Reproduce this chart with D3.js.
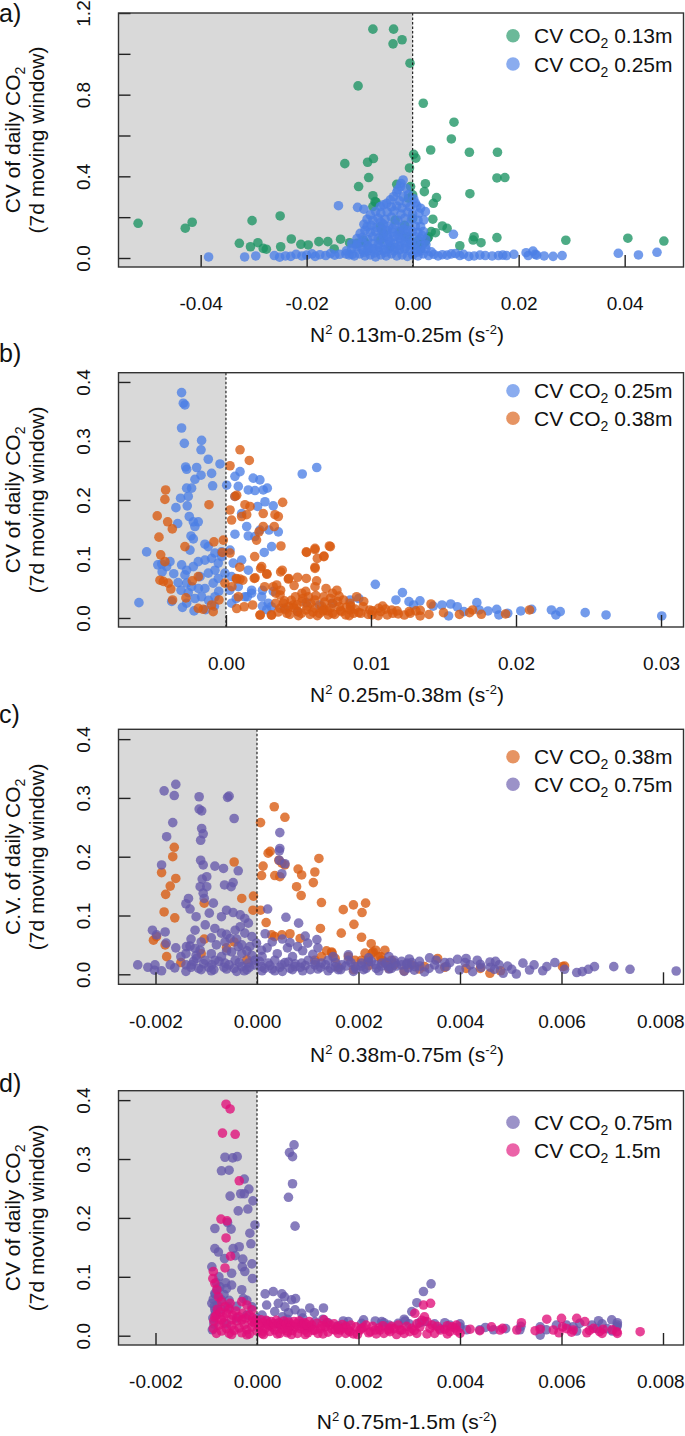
<!DOCTYPE html>
<html><head><meta charset="utf-8">
<script src="https://cdn.jsdelivr.net/npm/d3@7"></script>
<style>
body{margin:0;background:#fff}
svg text{font-family:"Liberation Sans",Arial,Helvetica,sans-serif;fill:#111}
</style></head>
<body><svg id="c" width="685" height="1436"></svg>
<script>
// ---------------- DATA ----------------
// Panel a: N2 0.13m-0.25m vs CV CO2
const aGreen=[[-0.0075,1.121],[-0.0036,1.121],[-0.0037,1.049],[-0.0020,1.069],[-0.0005,0.954],[-0.0103,0.843],
[0.0020,0.758],[0.0078,0.665],[0.0073,0.583],[0.0034,0.529],[0.0002,0.508],[0.0006,0.489],
[0.0107,0.518],[0.0160,0.518],[0.0159,0.392],[0.0174,0.394],[0.0108,0.315],
[-0.0128,0.462],[-0.0085,0.469],[-0.0074,0.487],[-0.0083,0.394],[-0.0102,0.350],[-0.0006,0.441],
[0.0024,0.364],[0.0022,0.325],[0.0045,0.296],[0.0039,0.268],[-0.0075,0.305],[-0.0069,0.273],
[-0.0030,0.361],[-0.0004,0.350],[0.0000,0.309],[-0.0008,0.293],[0.0038,0.190],[0.0056,0.157],[0.0065,0.145],
[0.0035,0.129],[0.0043,0.124],[0.0030,0.104],[0.0024,0.080],[0.0028,0.096],[0.0089,0.060],
[0.0116,0.104],[0.0114,0.088],[0.0129,0.075],[0.0159,0.100],[0.0289,0.087],[0.0406,0.097],[0.0474,0.083],
[-0.0518,0.170],[-0.0429,0.146],[-0.0416,0.175],[-0.0303,0.183],[-0.0250,0.206],
[-0.0327,0.072],[-0.0306,0.055],[-0.0292,0.075],[-0.0282,0.047],[-0.0276,0.043],[-0.0249,0.055],[-0.0229,0.093],
[-0.0211,0.067],[-0.0197,0.064],[-0.0177,0.080],[-0.0160,0.080],[-0.0136,0.092],[-0.0148,0.044],[-0.0119,0.075],[-0.0105,0.072],[-0.0093,0.088],
[-0.0075,0.252],[-0.0071,0.276],[-0.0061,0.153],[-0.0033,0.186],[-0.0023,0.129],[-0.0061,0.088],[-0.0042,0.055],
[-0.0010,0.104],[0.0011,0.088],[0.0000,0.194],[-0.0090,0.075],[-0.0055,0.120],[-0.0015,0.160],[0.0008,0.060],[0.0015,0.045],[0.0020,0.070]];
const aBlue=[[-0.0385,0.005],[-0.0317,0.005],[-0.0296,0.010],[-0.0261,0.012],[-0.0251,0.004],[-0.0240,0.010],[-0.0230,0.008],[-0.0220,0.018],[-0.0209,0.010],[-0.0200,0.014],[-0.0190,0.020],[-0.0184,0.008],[-0.0175,0.016],[-0.0164,0.012],[-0.0155,0.022],[-0.0147,0.014],[-0.0138,0.018],[-0.0126,0.020],[-0.0114,0.018],
[0.0020,0.020],[0.0030,0.012],[0.0040,0.018],[0.0048,0.010],[0.0056,0.016],[0.0065,0.014],[0.0073,0.020],[0.0081,0.022],[0.0089,0.012],[0.0096,0.018],[0.0106,0.008],[0.0116,0.010],[0.0127,0.014],[0.0137,0.012],[0.0150,0.010],[0.0162,0.012],[0.0170,0.014],[0.0177,0.012],[0.0191,0.018],[0.0214,0.026],[0.0218,0.012],[0.0227,0.034],[0.0231,0.018],[0.0234,0.014],[0.0248,0.010],[0.0265,0.008],[0.0282,0.012],[0.0388,0.023],[0.0426,0.015],[0.0461,0.028],
[-0.0018,0.382],[-0.0022,0.365],[-0.0023,0.350],[-0.0028,0.335],[-0.0012,0.340],
[-0.0030,0.322],[-0.0036,0.300],[-0.0008,0.310],[-0.0018,0.300],[0.0002,0.290],
[-0.0042,0.285],[-0.0049,0.268],[-0.0025,0.280],[-0.0012,0.270],[0.0005,0.270],
[-0.0061,0.252],[-0.0055,0.260],[-0.0040,0.250],[-0.0030,0.255],[-0.0020,0.245],[-0.0005,0.250],[0.0015,0.244],[-0.0104,0.248],[-0.0092,0.239],[-0.0140,0.256],[0.0008,0.255],
[-0.0070,0.228],[-0.0080,0.211],[-0.0060,0.220],[-0.0048,0.225],[-0.0035,0.230],[-0.0022,0.215],[-0.0010,0.225],[0.0000,0.215],[0.0024,0.227],[0.0012,0.220],
[-0.0086,0.190],[-0.0075,0.185],[-0.0065,0.195],[-0.0052,0.190],[-0.0040,0.200],[-0.0028,0.185],[-0.0015,0.195],[-0.0002,0.190],[0.0010,0.185],[0.0021,0.186],[-0.0060,0.175],
[-0.0086,0.153],[-0.0092,0.165],[-0.0078,0.160],[-0.0068,0.150],[-0.0055,0.165],[-0.0045,0.155],[-0.0033,0.165],[-0.0020,0.155],[-0.0008,0.160],[0.0005,0.155],[0.0015,0.154],
[-0.0099,0.121],[-0.0090,0.135],[-0.0080,0.125],[-0.0070,0.130],[-0.0058,0.120],[-0.0048,0.135],[-0.0038,0.125],[-0.0025,0.130],[-0.0012,0.120],[0.0000,0.130],[0.0010,0.125],[0.0020,0.130],
[-0.0105,0.095],[-0.0095,0.100],[-0.0085,0.090],[-0.0075,0.105],[-0.0065,0.095],[-0.0055,0.100],[-0.0045,0.090],[-0.0035,0.105],[-0.0025,0.095],[-0.0015,0.100],[-0.0005,0.090],[0.0005,0.104],[0.0015,0.095],[0.0025,0.090],[0.0077,0.116],
[-0.0115,0.070],[-0.0105,0.065],[-0.0095,0.075],[-0.0085,0.060],[-0.0075,0.070],[-0.0065,0.065],[-0.0055,0.075],[-0.0045,0.065],[-0.0035,0.070],[-0.0025,0.060],[-0.0015,0.075],[-0.0005,0.065],[0.0005,0.070],[0.0015,0.060],[0.0025,0.065],
[-0.0125,0.035],[-0.0115,0.045],[-0.0105,0.055],[-0.0095,0.040],[-0.0085,0.035],[-0.0075,0.045],[-0.0065,0.035],[-0.0055,0.040],[-0.0045,0.045],[-0.0035,0.035],[-0.0025,0.040],[-0.0015,0.045],[-0.0005,0.035],[0.0005,0.040],[0.0015,0.035],[0.0025,0.045],[0.0035,0.030],
[-0.0120,0.015],[-0.0110,0.010],[-0.0100,0.020],[-0.0090,0.010],[-0.0080,0.015],[-0.0070,0.005],[-0.0060,0.015],[-0.0050,0.010],[-0.0040,0.020],[-0.0030,0.010],[-0.0020,0.015],[-0.0010,0.008],[0.0000,0.015],[0.0010,0.010],
[-0.0072,0.025],[-0.0062,0.055],[-0.0052,0.028],[-0.0042,0.080],[-0.0032,0.050],[-0.0022,0.085],[-0.0012,0.055],[-0.0002,0.075],[0.0008,0.028],[-0.0082,0.050],[-0.0092,0.028],[-0.0038,0.145],[-0.0028,0.110],[-0.0018,0.140],[-0.0008,0.135],[-0.0048,0.110],[-0.0058,0.140],[0.0018,0.110]];

// Panel b: N2 0.25m-0.38m
const bBlue=[[-0.00306,0.382],[-0.00294,0.364],[-0.00283,0.361],[-0.00306,0.322],[-0.00287,0.296],[-0.00168,0.301],[-0.00172,0.285],[-0.00122,0.269],[-0.00041,0.261],
[-0.00278,0.256],[-0.00271,0.252],[-0.00202,0.255],[-0.00172,0.242],[-0.00214,0.235],[-0.00099,0.245],[-0.00092,0.224],
[-0.00271,0.220],[-0.00237,0.220],[-0.00260,0.206],[-0.00313,0.203],[-0.00267,0.190],[-0.00345,0.187],[-0.00253,0.172],[-0.00225,0.163],[-0.00191,0.163],[-0.00333,0.160],[-0.00214,0.155],[-0.00241,0.139],[-0.00225,0.134],[-0.00145,0.125],[-0.00248,0.115],[-0.00547,0.112],[-0.00076,0.110],[-0.00122,0.121],[-0.00030,0.112],
[-0.00443,0.0915],[-0.00409,0.087],[-0.00386,0.0955],[-0.00306,0.090],[-0.00271,0.081],[-0.00225,0.087],[-0.00191,0.0955],[-0.00145,0.098],[-0.00099,0.101],[-0.00053,0.093],[-0.00030,0.104],[-0.00076,0.081],[-0.00122,0.076],[-0.00179,0.070],[-0.00283,0.073],[-0.00271,0.059],[-0.00237,0.053],[-0.00145,0.050],[-0.00088,0.059],[-0.00053,0.067],[-0.00260,0.043],[-0.00168,0.036],[-0.00076,0.036],[-0.00214,0.033],[-0.00271,0.025],[-0.00374,0.028],[-0.00600,0.026],
[-0.0047,0.090],[-0.0044,0.078],[-0.0036,0.075],[-0.0033,0.060],[-0.0031,0.047],[-0.0019,0.050],[-0.0012,0.030],[-0.0005,0.045],[-0.0008,0.020],[-0.0030,0.018],[-0.0022,0.012],[-0.0014,0.014],
[0.00062,0.240],[0.00097,0.248],[0.00188,0.237],[0.00234,0.234],[0.00085,0.223],[0.00154,0.217],[0.00200,0.216],[0.00257,0.217],[0.00285,0.220],[0.00005,0.225],[0.00062,0.206],[0.00269,0.197],[0.00326,0.190],[0.00218,0.189],[0.00108,0.177],[0.00143,0.155],[0.00062,0.142],[0.00154,0.139],[0.00200,0.138],[0.00264,0.111],[0.00315,0.121],[0.00361,0.146],[0.00297,0.149],[0.00234,0.149],[0.00526,0.244],[0.00626,0.255],
[0.00028,0.115],[0.00108,0.098],[0.00050,0.093],[0.00154,0.081],[0.00039,0.070],[-0.00007,0.076],[0.00085,0.053],[0.00177,0.047],[0.00131,0.036],[0.00039,0.025],[0.00246,0.036],[0.00292,0.025],[0.00326,0.045],[0.00281,0.014],
[0.0103,0.057],[0.01217,0.043],[0.01172,0.0305],[0.01262,0.0277],[0.01338,0.029],[0.01294,0.022],[0.01429,0.020],[0.01490,0.022],[0.01550,0.0237],[0.01595,0.019],[0.01535,0.0034],[0.01641,0.0107],[0.01730,0.026],[0.01746,0.0136],[0.01807,0.0119],[0.01867,0.0147],[0.01882,0.0051],[0.01943,0.008],[0.02033,0.0119],[0.02108,0.0147],[0.02244,0.0136],[0.02275,0.0051],[0.02305,0.0107],[0.02477,0.009],[0.02621,0.0051],[0.03005,0.0034],
[0.00856,0.0305],[0.00916,0.033],[0.00735,0.025],[0.00645,0.022],[0.00554,0.026],[0.00494,0.0107],[0.00403,0.0164],[0.00313,0.019],[0.00252,0.020],[0.00147,0.036],[0.00071,0.033],[0.00026,0.047],[0.00177,0.042],[0.00252,0.047]];
const bOrange=[[0.00097,0.285],[0.00161,0.267],[0.00028,0.258],[-0.00416,0.217],[-0.00421,0.201],[-0.00474,0.173],[-0.00402,0.163],[-0.00370,0.151],[-0.00462,0.137],[-0.00450,0.107],[-0.00421,0.0955],[-0.00455,0.064],[-0.00432,0.062],[-0.00398,0.059],[-0.00380,0.049],[-0.00368,0.0305],[-0.00283,0.121],[-0.00276,0.034],[-0.00191,0.070],[-0.00232,0.063],[-0.00117,0.192],[-0.00083,0.129],[-0.00018,0.132],[-0.00025,0.111],[0.00028,0.110],[-0.00007,0.059],[-0.00048,0.0305],[-0.00099,0.022],[-0.00088,0.0107],[-0.00191,0.0164],[-0.00157,0.0147],
[0.00062,0.206],[0.00074,0.208],[0.00131,0.192],[0.00166,0.189],[0.00028,0.183],[0.00039,0.166],[0.00108,0.172],[0.00143,0.175],[0.00257,0.177],[0.00338,0.175],[0.00361,0.172],[0.00391,0.196],[0.00333,0.155],[0.00257,0.155],[0.00228,0.146],[0.00211,0.132],[0.00379,0.122],[0.00556,0.111],[0.00614,0.116],[0.00713,0.122],[0.00676,0.105],[0.00614,0.084],[0.00625,0.063],[0.00494,0.069],[0.00430,0.066],[0.00377,0.078],[0.00239,0.084],[0.00281,0.075],[0.00326,0.053],[0.00350,0.056],[0.00377,0.047],[0.00395,0.025],[0.00195,0.067],[0.00184,0.022],[0.00097,0.066],[0.00074,0.066],[0.00126,0.019],[0.00074,0.016],[0.00234,0.005],[0.00315,0.005],
[0.00237,0.0051],[0.00313,0.0051],[0.00343,0.025],[0.00373,0.0164],[0.00433,0.019],[0.00494,0.0107],[0.00554,0.0136],[0.00614,0.0164],[0.00675,0.0147],[0.00705,0.0051],[0.00735,0.025],[0.00796,0.0107],[0.00856,0.0136],[0.00916,0.009],[0.00992,0.0136],[0.01067,0.0107],[0.01112,0.0051],[0.01188,0.0068],[0.01339,0.0034],[0.01414,0.0237],[0.01701,0.0136],[0.01761,0.0062],[0.01928,0.0068],[0.02093,0.0136],
[0.00373,0.039],[0.00524,0.042],[0.00569,0.036],[0.00614,0.0305],[0.00675,0.036],[0.00735,0.042],[0.00765,0.047],[0.00901,0.036],[0.00614,0.053],[0.00690,0.050],[0.00554,0.067],[0.00433,0.067],[0.00614,0.086],[0.00630,0.101],[0.00554,0.112],[0.00614,0.118],[0.00675,0.104],[0.00720,0.121],[0.00388,0.081],[0.00283,0.074],[0.00267,0.053],[0.00343,0.042],[0.00201,0.068],[0.00116,0.064],[0.00071,0.067],[0.00095,0.086],[0.00246,0.087],[0.00198,0.104],[0.00041,0.053],[0.00086,0.036],
[0.00403,0.029],[0.00464,0.022],[0.00524,0.0277],[0.00584,0.025],[0.00645,0.008],[0.00735,0.008],[0.00781,0.019],[0.00826,0.0051],[0.00946,0.019],[0.01007,0.0051],[0.01052,0.0164],[0.01143,0.0136],[0.01263,0.0107],[0.00720,0.033],[0.00810,0.0305],[0.00856,0.025],[0.00479,0.036],
[0.0042,0.008],[0.0050,0.004],[0.0058,0.006],[0.0066,0.020],[0.0070,0.012],[0.0077,0.028],[0.0083,0.018],[0.0088,0.008],[0.0095,0.028],[0.0098,0.006],[0.0105,0.004],[0.0108,0.020],[0.0115,0.008],[0.0123,0.005],[0.0131,0.012],[0.0036,0.010],[0.0045,0.030],[0.0062,0.038],[0.0055,0.045],[0.0047,0.055],
[0.0041,0.014],[0.0044,0.006],[0.0047,0.017],[0.0052,0.008],[0.0056,0.020],[0.0060,0.010],[0.0063,0.004],[0.0067,0.012],[0.0072,0.017],[0.0075,0.006],[0.0079,0.013],[0.0085,0.004],[0.0089,0.015],[0.0093,0.008],[0.0101,0.012],[0.0110,0.015],[0.0118,0.012],[0.0127,0.008],[0.0134,0.013],[0.0140,0.006],[0.0150,0.009],[0.0161,0.006],[0.0168,0.009],[0.0053,0.033],[0.0068,0.027],[0.0078,0.037],[0.0086,0.020],[0.0049,0.022]];

// Panel c: N2 0.38m-0.75m
const cOrange=[[0.00034,0.285],[0.00055,0.267],[0.00007,0.258],[-0.00163,0.216],[-0.00166,0.200],[-0.00160,0.163],[-0.00171,0.150],[-0.00180,0.136],[-0.00183,0.106],[-0.00162,0.096],[-0.00178,0.030],[-0.00188,0.173],[-0.00204,0.058],[-0.00198,0.064],[-0.00181,0.050],[-0.00045,0.191],[-0.00030,0.129],[-0.00007,0.133],[-0.00008,0.109],[0.00007,0.109],[-0.00104,0.121],[-0.00104,0.060],
[0.00009,0.168],[0.00012,0.184],[0.00022,0.206],[0.00026,0.209],[0.00035,0.168],[0.00043,0.194],[0.00049,0.189],[0.00055,0.186],[0.00045,0.166],[0.00081,0.179],[0.00088,0.169],[0.00078,0.149],[0.00087,0.134],[0.00114,0.174],[0.00111,0.156],[0.00122,0.197],[0.00127,0.122],[0.00170,0.110],[0.00190,0.118],[0.00207,0.105],[0.00214,0.121],[0.00191,0.085],[0.00206,0.063],[0.00018,0.088],[0.00029,0.067],[0.00035,0.064],[0.00049,0.067],[0.00065,0.069],[0.00085,0.061],[0.00125,0.078],[0.00137,0.040],[0.00147,0.038],[0.00166,0.070],[0.00225,0.052],[0.00234,0.041],[0.00229,0.038],[0.00213,0.036],[0.00219,0.024],[0.00114,0.024],[0.00127,0.030],
[0.00148,0.036],[0.00154,0.027],[0.00180,0.030],[0.00193,0.024],[0.00239,0.030],[0.00246,0.024],[0.00252,0.019],[0.00265,0.024],[0.00206,0.024],
[0.00356,0.027],[0.00412,0.010],[0.00459,0.0017],[0.00602,0.013],[0.00606,0.014],[0.00330,0.013],[0.00304,0.016],[0.00270,0.016],[0.00252,0.021],[0.00244,0.030],[0.00227,0.036],[0.00252,0.041],
[-0.0011,0.035],[-0.0006,0.045],[-0.0002,0.025],[-0.00045,0.055],[-0.0015,0.020],[0.0016,0.012],[0.0019,0.008],[0.0022,0.015],[0.0026,0.010],[0.0029,0.006],[0.0032,0.009],[0.0037,0.012],[0.0044,0.010],[0.0048,0.006]];
const cPurple=[[-0.00160,0.323],[-0.00183,0.312],[-0.00163,0.304],[-0.00114,0.302],[-0.00114,0.281],[-0.00109,0.278],[-0.00055,0.303],[-0.00058,0.301],[-0.00045,0.265],[-0.00166,0.258],[-0.00178,0.234],[-0.00109,0.248],[-0.00106,0.239],[-0.00111,0.228],[-0.00188,0.186],
[-0.00111,0.194],[-0.00106,0.186],[-0.00083,0.184],[-0.00066,0.180],[-0.00037,0.176],[-0.00047,0.156],[-0.00064,0.152],[-0.00051,0.149],
[-0.00099,0.166],[-0.00108,0.162],[-0.00112,0.149],[-0.00099,0.149],[-0.00106,0.138],[-0.00104,0.129],
[-0.00135,0.129],[-0.00140,0.120],[-0.00132,0.111],[-0.00120,0.098],[-0.00094,0.104],[-0.00086,0.121],[-0.00070,0.098],[-0.00060,0.109],[-0.00047,0.105],[-0.00033,0.101],[-0.00024,0.095],[-0.00017,0.087],[0.00021,0.111],[0.00057,0.097],
[0.00045,0.241],[0.00045,0.214],[0.00044,0.210],[0.00044,0.194],[0.00055,0.188],[0.00049,0.171],
[0.00082,0.087],[0.00095,0.065],[0.00118,0.059],[0.00065,0.054],[0.00100,0.053],[0.00080,0.047],[0.00016,0.069],
[-0.00235,0.016],[-0.00215,0.012],[-0.00201,0.016],[-0.00202,0.007],[-0.00188,0.006],[-0.00171,0.016],[-0.00162,0.011],[-0.00206,0.075],[-0.00198,0.067],[-0.00181,0.072],[-0.00179,0.053],[-0.00139,0.047],[-0.00132,0.048],[-0.00122,0.044],[-0.00112,0.041],[-0.00119,0.027],[-0.00102,0.024],[-0.00129,0.016],[-0.00140,0.016],
[-0.00122,0.075],[-0.00102,0.084],[-0.00083,0.078],[-0.00070,0.070],[-0.00063,0.055],[-0.00053,0.061],[-0.00043,0.075],[-0.00033,0.081],[-0.00024,0.070],[-0.00010,0.064],[-0.00001,0.053],[0.00009,0.041],[-0.00014,0.047],[-0.00037,0.047],[-0.00050,0.038],[-0.00070,0.030],[-0.00083,0.024],[-0.00089,0.016],[-0.00063,0.019],[-0.00043,0.024],[-0.00030,0.013],[-0.00017,0.019],[-0.00004,0.024],[0.00009,0.013],[0.00022,0.019],[0.00035,0.024],[0.00049,0.016],[0.00062,0.021],[0.00075,0.013],[0.00088,0.019],[0.00101,0.024],[0.00114,0.016],[0.00127,0.019],[0.00140,0.024],[0.00154,0.013],[0.00167,0.016],[0.00180,0.024],[0.00193,0.013],[0.00206,0.019],[0.00219,0.021],[0.00233,0.016],[0.00246,0.019],[0.00259,0.013],[0.00272,0.019],[0.00285,0.016],[0.00298,0.011],[0.00311,0.013],
[0.00353,0.024],[0.00395,0.0255],[0.00412,0.027],[0.00434,0.024],[0.00459,0.021],[0.00477,0.016],[0.00494,0.014],[0.00511,0.0005],[0.00524,0.019],[0.00546,0.016],[0.00571,0.013],[0.00587,0.020],[0.00606,0.0085],[0.00630,0.003],[0.00641,0.0045],[0.00653,0.0085],[0.00665,0.013],[0.00703,0.013],[0.00735,0.0085],[0.00826,0.0056],[0.00270,0.024],[0.00296,0.019],[0.00321,0.014],[0.00339,0.010],[0.00373,0.013],[0.00399,0.0073],[0.00425,0.0045],[0.00442,0.012],[0.00468,0.0085],[0.00485,0.0017],[0.00502,0.0085],[0.00537,0.0073],[0.00563,0.006],
[-0.0011,0.008],[-0.0009,0.006],[-0.0006,0.009],[-0.0004,0.005],[-0.0002,0.008],[0.0001,0.006],[0.0003,0.009],[0.0005,0.005],[0.0007,0.008],[0.0009,0.006],[0.0012,0.009],[0.0014,0.006],[0.0016,0.008],[0.0019,0.005],[0.0021,0.008],[0.0024,0.006],[0.0026,0.009],[0.0029,0.005],[0.0031,0.007],[0.0033,0.004],[0.0036,0.009],
[-0.0012,0.032],[-0.0009,0.035],[-0.0006,0.040],[-0.0003,0.035],[0.0001,0.030],[0.0004,0.035],[0.0007,0.030],[0.0011,0.034],[0.0015,0.030],[0.0018,0.033],[0.0022,0.028],[0.0026,0.030],[0.0030,0.026],[0.0034,0.028],[0.0038,0.020],[0.0042,0.016],[0.0046,0.012],
[-0.0014,0.005],[-0.0013,0.012],[-0.00125,0.022],[-0.00115,0.010],[-0.00105,0.018],[-0.00095,0.012],[-0.00085,0.008],[-0.00075,0.022],[-0.00065,0.012],[-0.00055,0.016],[-0.00045,0.010],[-0.00035,0.020],[-0.00025,0.006],[-0.00015,0.012],[-0.00005,0.016],[0.00005,0.022],[0.00015,0.010],[0.00025,0.015],[0.00035,0.006],[0.00045,0.012],[0.00055,0.020],[0.00065,0.010],[0.00075,0.018],[0.00085,0.012],[0.00095,0.015],[0.00105,0.008],[0.00115,0.020],[0.00125,0.012],[0.00135,0.016],[0.00145,0.010],[0.00155,0.020],[0.00165,0.008],[0.00175,0.014],[0.00185,0.020],[0.00195,0.009],[0.00205,0.014],[0.00215,0.010],[0.00225,0.022],[0.00235,0.010],[0.00245,0.014],[0.00255,0.020],[0.00265,0.010],[0.00275,0.014],[0.00285,0.022],[0.00295,0.017],[0.00305,0.020],[0.0032,0.022],[0.0035,0.016],[0.0037,0.020],[0.0041,0.020],[0.0044,0.017],[0.0047,0.022],
[-0.0013,0.060],[-0.0011,0.055],[-0.0009,0.062],[-0.0008,0.050],[-0.0006,0.068],[-0.0004,0.060],[-0.0003,0.050],[-0.0002,0.040],[-0.0001,0.032],[0.0002,0.045],[0.0003,0.055],[0.0006,0.045],[0.0009,0.040],[0.0012,0.045],[0.0005,0.060],[-0.0015,0.030],[-0.0016,0.045],[-0.0014,0.035]];

// Panel d: N2 0.75m-1.5m
const dPurple=[[0.00073,0.324],[0.00064,0.311],[0.00070,0.304],[0.00070,0.258],[0.00062,0.235],[0.00075,0.186],
[-0.00063,0.303],[-0.00048,0.302],[-0.00039,0.304],[-0.00070,0.280],[-0.00055,0.281],[-0.00025,0.266],[-0.00016,0.249],[-0.00032,0.241],[-0.00025,0.241],[-0.00053,0.237],[-0.00008,0.229],[-0.00037,0.212],[-0.00018,0.215],[-0.00004,0.188],[-0.00083,0.182],[-0.00058,0.192],[-0.00051,0.181],[-0.00014,0.174],[-0.00012,0.156],[-0.00083,0.148],[-0.00076,0.142],[-0.00047,0.148],[-0.00035,0.151],[-0.00064,0.131],[-0.00043,0.136],[-0.00028,0.130],[-0.00029,0.117],[-0.00024,0.109],[-0.00010,0.122],[-0.00009,0.097],[-0.00050,0.106],[-0.00050,0.086],[-0.00060,0.080],[-0.00073,0.083],[-0.00089,0.117],[-0.00083,0.072],[-0.00070,0.061],[-0.00083,0.044],[-0.00089,0.055],[-0.00057,0.049],[-0.00030,0.078],[-0.00027,0.063],[-0.00010,0.049],
[0.00016,0.071],[0.00032,0.075],[0.00049,0.071],[0.00068,0.061],[0.00042,0.055],[0.00019,0.052],[0.00055,0.049],[0.00075,0.044],[0.00104,0.047],[0.00131,0.047],[0.00113,0.039],[0.00088,0.038],[0.00062,0.039],[0.00035,0.041],[0.00054,0.066],[0.00076,0.063],
[0.00343,0.088],[0.00328,0.075],[0.00315,0.056],[0.00305,0.041],
[0.00673,0.0255],[0.00699,0.027],[0.00709,0.015],[0.00610,0.018],[0.00623,0.015],[0.00636,0.021],[0.00590,0.018],[0.00558,0.001],[0.00518,0.010],[0.00466,0.010],[0.00439,0.010],[0.00413,0.010],[0.00558,0.015],[0.00680,0.020],[0.00690,0.012],[0.00710,0.022],[0.00660,0.018],[0.00700,0.008],
[0.00088,0.021],[0.00114,0.024],[0.00140,0.022],[0.00180,0.024],[0.00206,0.021],[0.00233,0.025],[0.00246,0.024],[0.00278,0.021],[0.00292,0.025],[0.00320,0.022],[0.00350,0.020],[0.00380,0.018],[0.00400,0.015],
[-0.00088,0.010],[-0.00085,0.020],[-0.00087,0.030],[-0.00082,0.038],[-0.00086,0.062],[-0.00080,0.090],[-0.00075,0.100],[-0.00078,0.052],[-0.00060,0.020],[-0.00040,0.030],[-0.00020,0.035],[0.00000,0.030],[0.00020,0.025],[0.00040,0.020],[0.00060,0.028],[0.00100,0.015],[0.00160,0.017],[0.00260,0.018],[0.00300,0.020],
[-0.00084,0.050],[-0.00082,0.070],[-0.00078,0.080],[-0.00070,0.045],[-0.00065,0.070],[-0.00062,0.090],[-0.00055,0.060],[-0.00040,0.050],[-0.00020,0.060],[0.00010,0.035],[0.00050,0.032],[0.00090,0.030],[0.00130,0.028],[0.00170,0.025],[0.00210,0.027],[0.00250,0.022],[0.00290,0.028],[0.00330,0.024],[0.00370,0.022],[0.00400,0.020],[0.00360,0.012],[0.00450,0.014],[0.00490,0.012],[0.00520,0.016],[0.00570,0.010],[0.00630,0.008],[0.00670,0.012],[0.00710,0.018]];
const dPink=[[-0.00061,0.393],[-0.00053,0.385],[-0.00068,0.344],[-0.00043,0.342],[-0.00035,0.263],[-0.00071,0.198],[-0.00059,0.195],[-0.00061,0.166],[-0.00052,0.135],[-0.00063,0.115],
[-0.00086,0.109],[-0.00087,0.097],[-0.00083,0.089],[-0.00079,0.078],[-0.00076,0.066],[-0.00070,0.058],[-0.00063,0.049],[-0.00053,0.055],[-0.00030,0.058],[-0.00020,0.052],[-0.00010,0.044],[-0.00083,0.032],[-0.00070,0.027],[-0.00050,0.027],[-0.00030,0.027],[-0.00010,0.024],
[-0.00086,0.012],[-0.00080,0.004],[-0.00075,0.018],[-0.00070,0.008],[-0.00065,0.022],[-0.00060,0.012],[-0.00055,0.004],[-0.00050,0.017],[-0.00045,0.009],[-0.00040,0.025],[-0.00035,0.013],[-0.00030,0.005],[-0.00025,0.019],[-0.00020,0.010],[-0.00015,0.003],[-0.00010,0.015],[-0.00005,0.022],[0.00000,0.008],[0.00005,0.016],[0.00010,0.004],[0.00016,0.0125],[0.00020,0.020],[0.00025,0.007],[0.00030,0.015],[0.00035,0.0097],[0.00040,0.003],[0.00045,0.018],[0.00050,0.011],[0.00055,0.0125],[0.00060,0.005],[0.00065,0.016],[0.00070,0.009],[0.00075,0.015],[0.00080,0.004],[0.00085,0.012],[0.00090,0.019],[0.00094,0.0097],[0.00100,0.005],[0.00105,0.014],[0.00114,0.0097],[0.00120,0.004],[0.00125,0.012],[0.00132,0.027],[0.00134,0.015],[0.00140,0.006],[0.00148,0.011],[0.00154,0.0097],[0.00160,0.004],[0.00164,0.0097],[0.00170,0.013],[0.00180,0.0097],[0.00183,0.0068],[0.00190,0.003],[0.00203,0.0097],[0.00210,0.014],[0.00206,0.0125],[0.00220,0.005],[0.00223,0.0068],[0.00233,0.0097],[0.00240,0.013],[0.00242,0.0097],[0.00250,0.004],[0.00259,0.0097],[0.00262,0.0068],[0.00270,0.012],[0.00282,0.0097],[0.00285,0.0097],[0.00290,0.004],[0.00301,0.0068],[0.00305,0.0125],[0.00311,0.038],[0.00321,0.015],[0.00328,0.052],[0.00342,0.055],[0.00341,0.0125],[0.00335,0.024],[0.00330,0.032],[0.00361,0.0097],[0.00350,0.004],[0.00370,0.011],[0.00380,0.0068],[0.00390,0.013],[0.00393,0.018],[0.00400,0.004],
[0.00420,0.011],[0.00439,0.0085],[0.00462,0.015],[0.00479,0.0097],[0.00484,0.0125],[0.00512,0.0097],[0.00521,0.022],[0.00548,0.0085],[0.00558,0.011],[0.00571,0.028],[0.00584,0.0097],[0.00600,0.0295],[0.00602,0.015],[0.00623,0.0097],[0.00630,0.0295],[0.00646,0.024],[0.00663,0.0125],[0.00682,0.011],[0.00709,0.0068],[0.00755,0.0068],[0.00620,0.006],[0.00650,0.005],[0.00680,0.004],[0.00700,0.010],[0.00710,0.004],[0.00655,0.009],[0.00675,0.007],[0.00610,0.012],[0.00595,0.005],
[-0.00085,0.025],[-0.00080,0.035],[-0.00078,0.045],[-0.00072,0.040],[-0.00066,0.032],[-0.00060,0.038],[-0.00055,0.045],[-0.00048,0.035],[-0.00042,0.042],[-0.00036,0.032],[-0.00028,0.038],[-0.00022,0.030],[-0.00015,0.035],[-0.00008,0.030],[-0.00002,0.026],
[0.00003,0.020],[0.00008,0.027],[0.00013,0.022],[0.00018,0.026],[0.00023,0.018],[0.00028,0.024],[0.00033,0.020],[0.00038,0.026],[0.00043,0.022],[0.00048,0.019],[0.00053,0.025],[0.00058,0.020],[0.00063,0.023],[0.00068,0.018],[0.00073,0.024],[0.00078,0.020],[0.00083,0.025],[0.00088,0.016],[0.00093,0.022],[0.00098,0.019],[0.00103,0.024],[0.00108,0.018],[0.00118,0.021],[0.00128,0.017],[0.00138,0.022],[0.00145,0.018],[0.00152,0.020],[0.00158,0.015],[0.00168,0.019],[0.00175,0.016],[0.00185,0.018],[0.00195,0.015],[0.00215,0.018],[0.00228,0.016],[0.00248,0.017],[0.00265,0.016],[0.00278,0.018],[0.00295,0.016],[0.00315,0.020],[0.00325,0.026],[0.00345,0.018],[0.00355,0.016],[0.00375,0.017],[0.00385,0.015],
[0.00013,0.002],[0.00045,0.004],[0.00068,0.002],[0.00095,0.002],[0.00130,0.003],[0.00175,0.004],[0.00198,0.002],[0.00235,0.003],[0.00275,0.002],[0.00315,0.004],[0.00335,0.003],[0.00375,0.003],[0.00395,0.008],[-0.00050,0.002],[-0.00020,0.0015],[0.00010,0.008],[0.00260,0.0125],[0.00310,0.009],[0.00160,0.012],[0.00110,0.009],[0.00060,0.008]];

// tick values / labels
const aXTicks=[-0.04,-0.02,0,0.02,0.04];
const aYTicks=[0,0.2,0.4,0.6,0.8,1.0,1.2];
const aYLabels=[0,0.4,0.8,1.2];
const bXTicks=[0,0.01,0.02,0.03];
const cdXTicks=[-0.002,0,0.002,0.004,0.006,0.008];
const bcdYTicks=[0,0.1,0.2,0.3,0.4];

const colGreen="#1b9463", colBlue="#4b7fe6", colOrange="#d95a0f", colPurple="#6558ab", colPink="#e0107a";

// ---------------- LAYOUT ----------------
const L=118.5, R=683.5;
const panels=[
 {tag:"a)", tagY:22, top:13, bottom:267, xd:[-0.0555,0.0511], yd:[-0.0441,1.2], xt:aXTicks, xf:".2f", yt:aYTicks, yl:aYLabels,
  s:[{d:aGreen,c:colGreen,n:"0.13m"},{d:aBlue,c:colBlue,n:"0.25m"}], leg:[35.7,64], yTitle:"CV of daily CO", xT:["N","2"," 0.13m-0.25m (s","-2",")"], xTy:342},
 {tag:"b)", tagY:362, top:372.7, bottom:627, xd:[-0.00741,0.03155], yd:[-0.0153,0.4157], xt:bXTicks, xf:".2f", yt:bcdYTicks, yl:bcdYTicks,
  s:[{d:bBlue,c:colBlue,n:"0.25m"},{d:bOrange,c:colOrange,n:"0.38m"}], leg:[390.7,418.3], yTitle:"CV of daily CO", xT:["N","2"," 0.25m-0.38m (s","-2",")"], xTy:702},
 {tag:"c)", tagY:723, top:729.3, bottom:984.3, xd:[-0.002729,0.008404], yd:[-0.017,0.4167], xt:cdXTicks, xf:".3f", yt:bcdYTicks, yl:bcdYTicks,
  s:[{d:cOrange,c:colOrange,n:"0.38m"},{d:cPurple,c:colPurple,n:"0.75m"}], leg:[756.7,784.3], yTitle:"C.V. of daily CO", xT:["N","2","  0.38m-0.75m (s","-2",")"], xTy:1062},
 {tag:"d)", tagY:1092, top:1090.7, bottom:1345, xd:[-0.002729,0.008404], yd:[-0.0158,0.416], xt:cdXTicks, xf:".3f", yt:bcdYTicks, yl:bcdYTicks,
  s:[{d:dPurple,c:colPurple,n:"0.75m"},{d:dPink,c:colPink,n:"1.5m"}], leg:[1122.3,1150], yTitle:"CV of daily CO", xT:["N","2","\u20090.75m-1.5m (s","-2",")"], xTy:1429}
];

const svg=d3.select("#c");
const fmtNum=f=>{const F=d3.format(f);return d=>F(d).replace("\u2212","-");};

panels.forEach(p=>{
  const g=svg.append("g");
  const x=d3.scaleLinear().domain(p.xd).range([L,R]);
  const y=d3.scaleLinear().domain(p.yd).range([p.bottom,p.top]);
  g.append("rect").attr("x",L).attr("y",p.top).attr("width",x(0)-L).attr("height",p.bottom-p.top).attr("fill","#d9d9d9");
  p.s.forEach(s=>{
    g.append("g").selectAll("circle").data(s.d).join("circle")
      .attr("cx",d=>x(d[0])).attr("cy",d=>y(d[1])).attr("r",4.8)
      .attr("fill",s.c).attr("fill-opacity",0.78);
  });
  g.append("line").attr("x1",x(0)).attr("x2",x(0)).attr("y1",p.top).attr("y2",p.bottom)
    .attr("stroke","#111").attr("stroke-width",1.1).attr("stroke-dasharray","2.5,2");
  const xa=d3.axisBottom(x).tickValues(p.xt).tickSize(-12).tickPadding(30).tickFormat(fmtNum(p.xf));
  const gx=g.append("g").attr("transform",`translate(0,${p.bottom})`).call(xa);
  gx.select(".domain").remove();
  gx.selectAll(".tick line").attr("stroke","#222").attr("stroke-width",1.4);
  gx.selectAll(".tick text").attr("font-size",19).attr("fill","#111").attr("dy","0.71em")
    .each(function(d){const w=this.getComputedTextLength();const over=x(d)+w/2-684;if(over>0)d3.select(this).attr("dx",-over);});
  const yf=fmtNum(".1f");
  const ya=d3.axisLeft(y).tickValues(p.yt).tickSize(-12).tickFormat(d=>p.yl.some(v=>Math.abs(v-d)<1e-9)?yf(d):"");
  const gy=g.append("g").attr("transform",`translate(${L},0)`).call(ya);
  gy.select(".domain").remove();
  gy.selectAll(".tick line").attr("stroke","#222").attr("stroke-width",1.4);
  gy.selectAll(".tick text").attr("font-size",19).attr("fill","#111")
    .attr("transform","rotate(-90)").attr("x",0).attr("y",-(L-90)).attr("dy",0).attr("text-anchor","middle");
  g.append("rect").attr("x",L).attr("y",p.top).attr("width",R-L).attr("height",p.bottom-p.top)
    .attr("fill","none").attr("stroke","#333").attr("stroke-width",1.4);
  svg.append("text").attr("x",-1).attr("y",p.tagY).attr("font-size",25).text(p.tag);
  const cy=(p.top+p.bottom)/2;
  const t1=svg.append("text").attr("transform",`translate(20,${cy}) rotate(-90)`).attr("text-anchor","middle").attr("font-size",21);
  t1.append("tspan").text(p.yTitle);
  t1.append("tspan").attr("font-size",14).attr("dy",5).text("2");
  svg.append("text").attr("transform",`translate(44,${cy}) rotate(-90)`).attr("text-anchor","middle").attr("font-size",21).text("(7d moving window)");
  const xt=svg.append("text").attr("x",407).attr("y",p.xTy).attr("text-anchor","middle").attr("font-size",21);
  xt.append("tspan").text(p.xT[0]);
  xt.append("tspan").attr("font-size",13).attr("dy",-8).text(p.xT[1]);
  xt.append("tspan").attr("dy",8).text(p.xT[2]);
  xt.append("tspan").attr("font-size",13).attr("dy",-8).text(p.xT[3]);
  xt.append("tspan").attr("dy",8).text(p.xT[4]);
  p.s.forEach((s,i)=>{
    const ly=p.leg[i];
    svg.append("circle").attr("cx",513).attr("cy",ly).attr("r",6.8).attr("fill",s.c).attr("fill-opacity",0.65);
    const lt=svg.append("text").attr("x",534).attr("y",ly+7.5).attr("font-size",21);
    lt.append("tspan").text("CV CO");
    lt.append("tspan").attr("font-size",14).attr("dy",5).text("2");
    lt.append("tspan").attr("dy",-5).text(" "+s.n);
  });
});
</script>
</body></html>
